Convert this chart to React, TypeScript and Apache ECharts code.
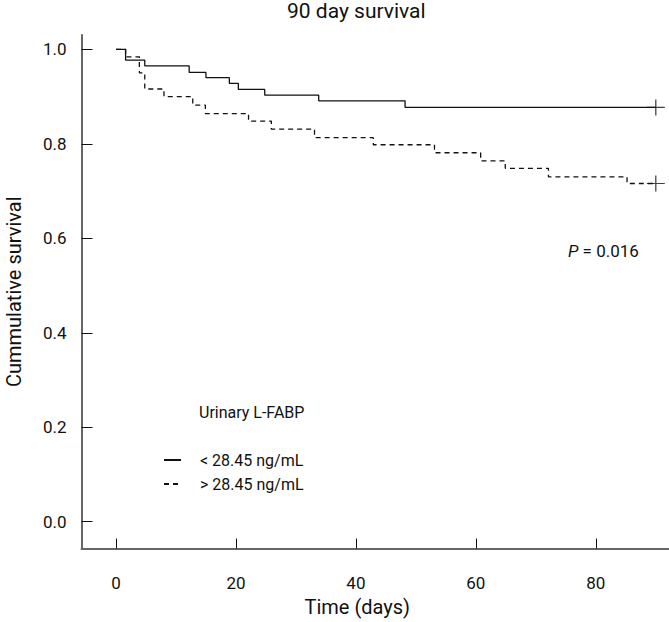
import React, { useEffect, useRef } from "react";
import * as echarts from "echarts";

const FONT = "Roboto, 'Liberation Sans', sans-serif";

const titleText = "90 day survival";
const xAxisName = "Time (days)";
const yAxisName = "Cummulative survival";
const legendTitle = "Urinary L-FABP";
const pValueText = "= 0.016";

const xTicks = [0, 20, 40, 60, 80];
const yTicks = [0, 0.2, 0.4, 0.6, 0.8, 1.0];

const lowName = "< 28.45 ng/mL";
const lowTimes = [0, 1.6, 4.8, 12.2, 15.0, 18.9, 20.4, 24.8, 33.8, 48.2, 90];
const lowSurv = [1, 0.977, 0.965, 0.951, 0.94, 0.928, 0.915, 0.903, 0.891, 0.877, 0.877];

const highName = "> 28.45 ng/mL";
const highTimes = [0, 1.6, 3.9, 4.8, 8.0, 12.8, 14.9, 22.1, 25.9, 33.1, 42.9, 53.1, 60.8, 64.9, 72.1, 85.2, 90];
const highSurv = [1, 0.984, 0.95, 0.916, 0.9, 0.882, 0.864, 0.848, 0.831, 0.813, 0.798, 0.781, 0.764, 0.748, 0.73, 0.716, 0.716];

export default function App() {
  const ref = useRef<HTMLDivElement>(null);
  useEffect(() => {
    if (!ref.current) return;
    const chart = echarts.init(ref.current, null, { renderer: "svg" });
    const lowData = lowTimes.map((t, i) => [t, lowSurv[i]]);
    const highData = highTimes.map((t, i) => [t, highSurv[i]]);
    const censor = [
      [lowTimes[lowTimes.length - 1], lowSurv[lowSurv.length - 1]],
      [highTimes[highTimes.length - 1], highSurv[highSurv.length - 1]],
    ];
    chart.setOption({
      animation: false,
      backgroundColor: "#ffffff",
      textStyle: { fontFamily: FONT },
      grid: { left: 81.5, right: 0, top: 35, bottom: 622 - 548.5, outerBoundsMode: "none" },
      xAxis: {
        type: "value",
        min: -5.75,
        max: 92.2,
        name: xAxisName,
        nameLocation: "middle",
        nameGap: 48,
        nameTextStyle: { fontSize: 20, color: "#111", fontFamily: FONT, padding: [0, 36, 0, 0] },
        axisLine: { show: true, onZero: false, lineStyle: { color: "#666", width: 2 } },
        axisTick: { show: true, inside: true, length: 10, customValues: xTicks, lineStyle: { color: "#111", width: 1 } },
        axisLabel: { customValues: xTicks, margin: 26, fontSize: 17, color: "#111", fontFamily: FONT },
        splitLine: { show: false },
      },
      yAxis: {
        type: "value",
        min: -0.0567,
        max: 1.0303,
        name: yAxisName,
        nameLocation: "middle",
        nameGap: 58,
        nameTextStyle: { fontSize: 20, color: "#111", fontFamily: FONT },
        axisLine: { show: true, onZero: false, lineStyle: { color: "#666", width: 2 } },
        axisTick: { show: true, inside: true, length: 11, customValues: yTicks, lineStyle: { color: "#111", width: 1 } },
        axisLabel: {
          customValues: yTicks,
          margin: 15,
          fontSize: 17,
          color: "#111",
          fontFamily: FONT,
          formatter: (v: number) => v.toFixed(1),
        },
        splitLine: { show: false },
      },
      legend: {
        orient: "vertical",
        left: 163,
        top: 452,
        padding: 0,
        itemWidth: 17,
        itemHeight: 14,
        itemGap: 8,
        data: [lowName, highName],
        itemStyle: { opacity: 0 },
        textStyle: { fontSize: 16, color: "#111", fontFamily: FONT, padding: [0, 0, 0, 14] },
      },
      graphic: [
        {
          type: "text",
          left: 357 - 70,
          top: 0,
          style: { text: titleText, fontSize: 21, fill: "#111", fontFamily: FONT, width: 140, align: "center" },
        },
        {
          type: "text",
          x: 199,
          y: 412,
          style: { text: legendTitle, fontSize: 16, fill: "#111", fontFamily: FONT, verticalAlign: "middle" },
        },
        {
          type: "text",
          x: 568,
          y: 251,
          style: {
            text: "{i|P} " + pValueText,
            fontSize: 17,
            fill: "#111",
            fontFamily: FONT,
            verticalAlign: "middle",
            rich: { i: { fontStyle: "italic", fontSize: 17, fontFamily: FONT, fill: "#111" } },
          },
        },
      ],
      series: [
        {
          name: lowName,
          type: "line",
          step: "end",
          data: lowData,
          symbol: "none",
          color: "#111",
          lineStyle: { color: "#111", width: 1.3, type: "solid" },
        },
        {
          name: highName,
          type: "line",
          step: "end",
          data: highData,
          symbol: "none",
          color: "#111",
          lineStyle: { color: "#111", width: 1.3, type: [5, 4] },
        },
        {
          name: "censored",
          type: "scatter",
          data: censor,
          symbol: "path://M0,-8 L0,8 M-8,0 L8,0",
          symbolSize: [18, 16],
          itemStyle: { color: "none", borderColor: "#111", borderWidth: 1.2 },
          silent: true,
        },
      ],
    });
    return () => chart.dispose();
  }, []);
  return <div ref={ref} style={{ position: "fixed", left: 0, top: 0, width: 669, height: 622 }} />;
}
